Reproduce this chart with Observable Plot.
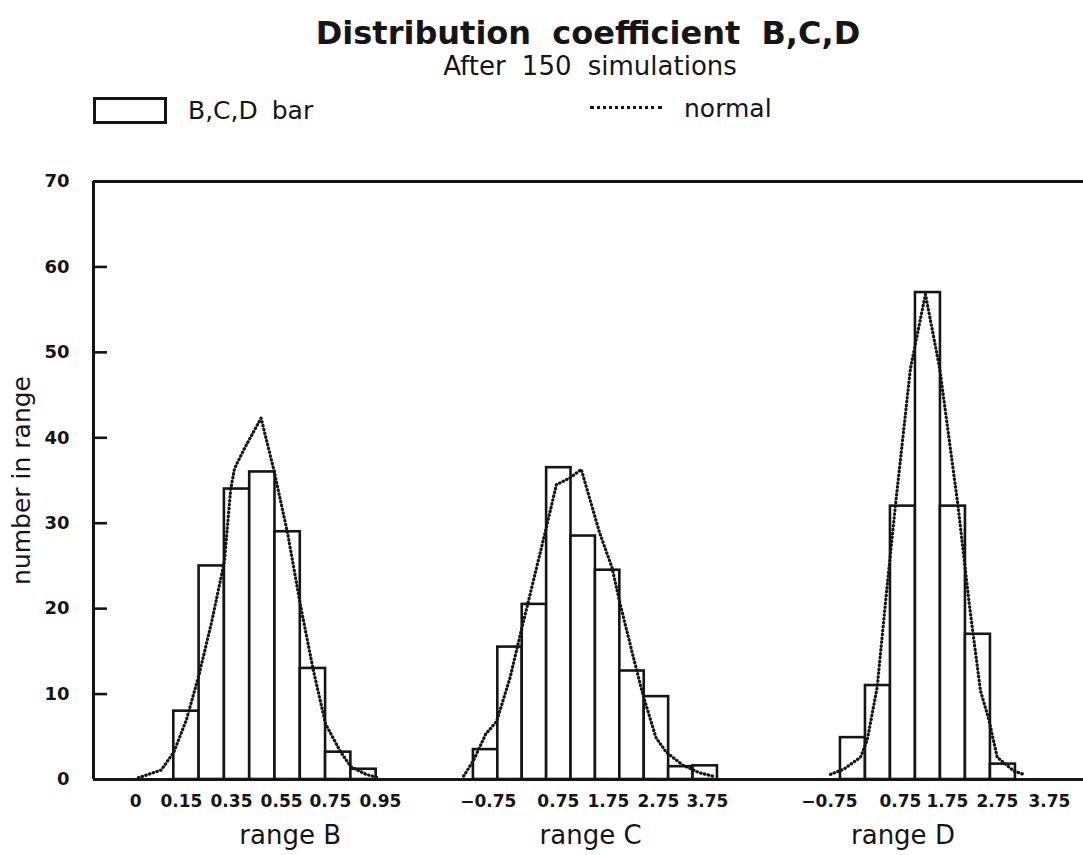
<!DOCTYPE html>
<html>
<head>
<meta charset="utf-8">
<script src="https://cdn.jsdelivr.net/npm/d3@7"></script>
<script src="https://cdn.jsdelivr.net/npm/@observablehq/plot@0.6"></script>
<style>
  html, body { margin: 0; padding: 0; background: #fff; }
  #page { position: relative; width: 1083px; height: 855px; background: #fff; overflow: hidden; font-family: "DejaVu Sans", sans-serif; color: #151515; }
  .abs { position: absolute; white-space: pre; line-height: 1; }
  #title { left: 588px; top: 33px; transform: translate(-50%, -50%); font-size: 32px; font-weight: bold; word-spacing: 10px; }
  #subtitle { left: 590px; top: 66px; transform: translate(-50%, -50%); font-size: 26px; word-spacing: 8px; }
  #legBox { left: 93px; top: 97px; width: 68px; height: 21px; border: 3px solid #151515; }
  #legBar { left: 188px; top: 110px; transform: translate(0, -50%); font-size: 25px; word-spacing: 6px; }
  #legLine { left: 590px; top: 106px; width: 72px; height: 0; border-top: 3px dotted #151515; }
  #legNormal { left: 684px; top: 108px; transform: translate(0, -50%); font-size: 25px; }
  #chart { position: absolute; left: 0; top: 150px; }
</style>
</head>
<body>
<div id="page">
  <div id="title" class="abs">Distribution coefficient B,C,D</div>
  <div id="subtitle" class="abs">After 150 simulations</div>
  <div id="legBox" class="abs"></div>
  <div id="legBar" class="abs">B,C,D bar</div>
  <div id="legLine" class="abs"></div>
  <div id="legNormal" class="abs">normal</div>
  <div id="chart"></div>
</div>
<script>
// ---- data (number in range per bin) ----
const countsB = [8, 25, 34, 36, 29, 13, 3.2, 1.2];
const countsC = [3.5, 15.5, 20.5, 36.5, 28.5, 24.5, 12.7, 9.7, 1.5, 1.6];
const countsD = [4.9, 11, 32, 57, 32, 17, 1.8];

// normal curves: position in bins from the first bar's left edge, and value
const normalBPos = [-1.4, -0.5, 0, 0.5, 1.0, 1.5, 2.0, 2.25, 2.4, 2.8, 3.45, 3.95, 4.5, 5.0, 5.5, 6.0, 6.6, 7.0, 7.6, 8.1];
const normalBVal = [0.2, 1.1, 3.2, 7.0, 12.3, 18.5, 25.5, 34.0, 36.4, 38.8, 42.3, 36.3, 28.8, 20.5, 13.0, 6.5, 3.2, 1.5, 0.6, 0.2];
const normalCPos = [-0.4, 0, 0.5, 0.95, 1.5, 2.0, 2.93, 3.4, 3.95, 4.42, 5.17, 5.68, 6.0, 6.53, 6.94, 7.48, 7.9, 8.57, 9.25, 9.8];
const normalCVal = [0.4, 2.2, 5.3, 6.8, 11.9, 17.9, 28.8, 34.5, 35.3, 36.3, 28.9, 24.8, 20.7, 14.6, 10.0, 4.9, 3.2, 1.7, 0.8, 0.4];
const normalDPos = [-0.4, 0.13, 0.8, 1.07, 1.47, 1.87, 2.2, 2.8, 3.4, 3.97, 4.7, 5.15, 5.6, 5.93, 6.27, 6.93, 7.33];
const normalDVal = [0.6, 1.2, 2.6, 4.6, 10.8, 22.7, 32.1, 48.1, 56.8, 48.1, 32.1, 20.6, 10.4, 7.1, 2.6, 1.0, 0.6];

// tick labels and their positions (in bins from each group's first bar)
const tickLabelsB = ["0", "0.15", "0.35", "0.55", "0.75", "0.95"];
const tickPosB = [-1.51, 0.30, 2.28, 4.26, 6.19, 8.17];
const tickLabelsC = ["\u22120.75", "0.75", "1.75", "2.75", "3.75"];
const tickPosC = [0.61, 3.48, 5.53, 7.58, 9.59];
const tickLabelsD = ["\u22120.75", "0.75", "1.75", "2.75", "3.75"];
const tickPosD = [-0.44, 2.4, 4.28, 6.28, 8.36];

const groupNames = ["range B", "range C", "range D"];
const groupLabelPos = [4.6, 4.8, 2.5];
const yTicks = [0, 10, 20, 30, 40, 50, 60, 70];

// ---- layout of the groups along the x axis (slot units) ----
const layout = [
  {start: 3.245, w: 1.022},
  {start: 15.35, w: 0.986},
  {start: 30.18, w: 1.01}
];
const allCounts = [countsB, countsC, countsD];
const allNormal = [[normalBPos, normalBVal], [normalCPos, normalCVal], [normalDPos, normalDVal]];
const allTicks = [[tickPosB, tickLabelsB], [tickPosC, tickLabelsC], [tickPosD, tickLabelsD]];

const bars = [];
allCounts.forEach((counts, g) => {
  const {start, w} = layout[g];
  counts.forEach((c, i) => bars.push({group: groupNames[g], x1: start + i * w, x2: start + (i + 1) * w, y: c}));
});
const normal = [];
allNormal.forEach(([pos, val], g) => {
  const {start, w} = layout[g];
  pos.forEach((p, i) => normal.push({group: groupNames[g], x: start + p * w, y: val[i]}));
});
const tickMap = new Map();
allTicks.forEach(([pos, lab], g) => {
  const {start, w} = layout[g];
  pos.forEach((p, i) => tickMap.set(start + p * w, lab[i]));
});
const groupLabels = groupNames.map((name, g) => ({name, x: layout[g].start + groupLabelPos[g] * layout[g].w}));

const ink = "#151515";
const chart = Plot.plot({
  width: 1083,
  height: 705,
  marginLeft: 93,
  marginRight: 0,
  marginTop: 31,
  marginBottom: 76,
  x: {domain: [0, 40], axis: null},
  y: {domain: [0, 70], axis: null},
  style: {fontFamily: "DejaVu Sans, sans-serif", color: ink, background: "white", overflow: "visible"},
  marks: [
    Plot.rectY(bars, {x1: "x1", x2: "x2", y: "y", fill: "white", stroke: ink, strokeWidth: 2.6}),
    Plot.line(normal, {x: "x", y: "y", z: "group", stroke: ink, strokeWidth: 3.2, strokeDasharray: "0.5,3.4", strokeLinecap: "round"}),
    Plot.ruleY([0, 70], {stroke: ink, strokeWidth: 3}),
    Plot.ruleX([0], {stroke: ink, strokeWidth: 3}),
    Plot.tickY(yTicks.filter(t => t > 0 && t < 70), {y: d => d, stroke: ink, strokeWidth: 2.6, insetRight: 990 - 14}),
    Plot.axisY({ticks: yTicks, tickSize: 0, tickPadding: 24, tickFormat: d => String(d), fontSize: 18, fontWeight: "bold", label: null}),
    Plot.axisX([...tickMap.keys()], {tickSize: 0, tickPadding: 15, tickFormat: d => tickMap.get(d), fontSize: 17, fontWeight: "bold", label: null}),
    Plot.text(groupLabels, {x: "x", text: "name", frameAnchor: "bottom", dy: 64, fontSize: 26, fill: ink}),
    Plot.text(["number in range"], {frameAnchor: "left", rotate: -90, dx: -72, textAnchor: "middle", fontSize: 25, fill: ink})
  ]
});
document.getElementById("chart").appendChild(chart);
</script>
</body>
</html>
